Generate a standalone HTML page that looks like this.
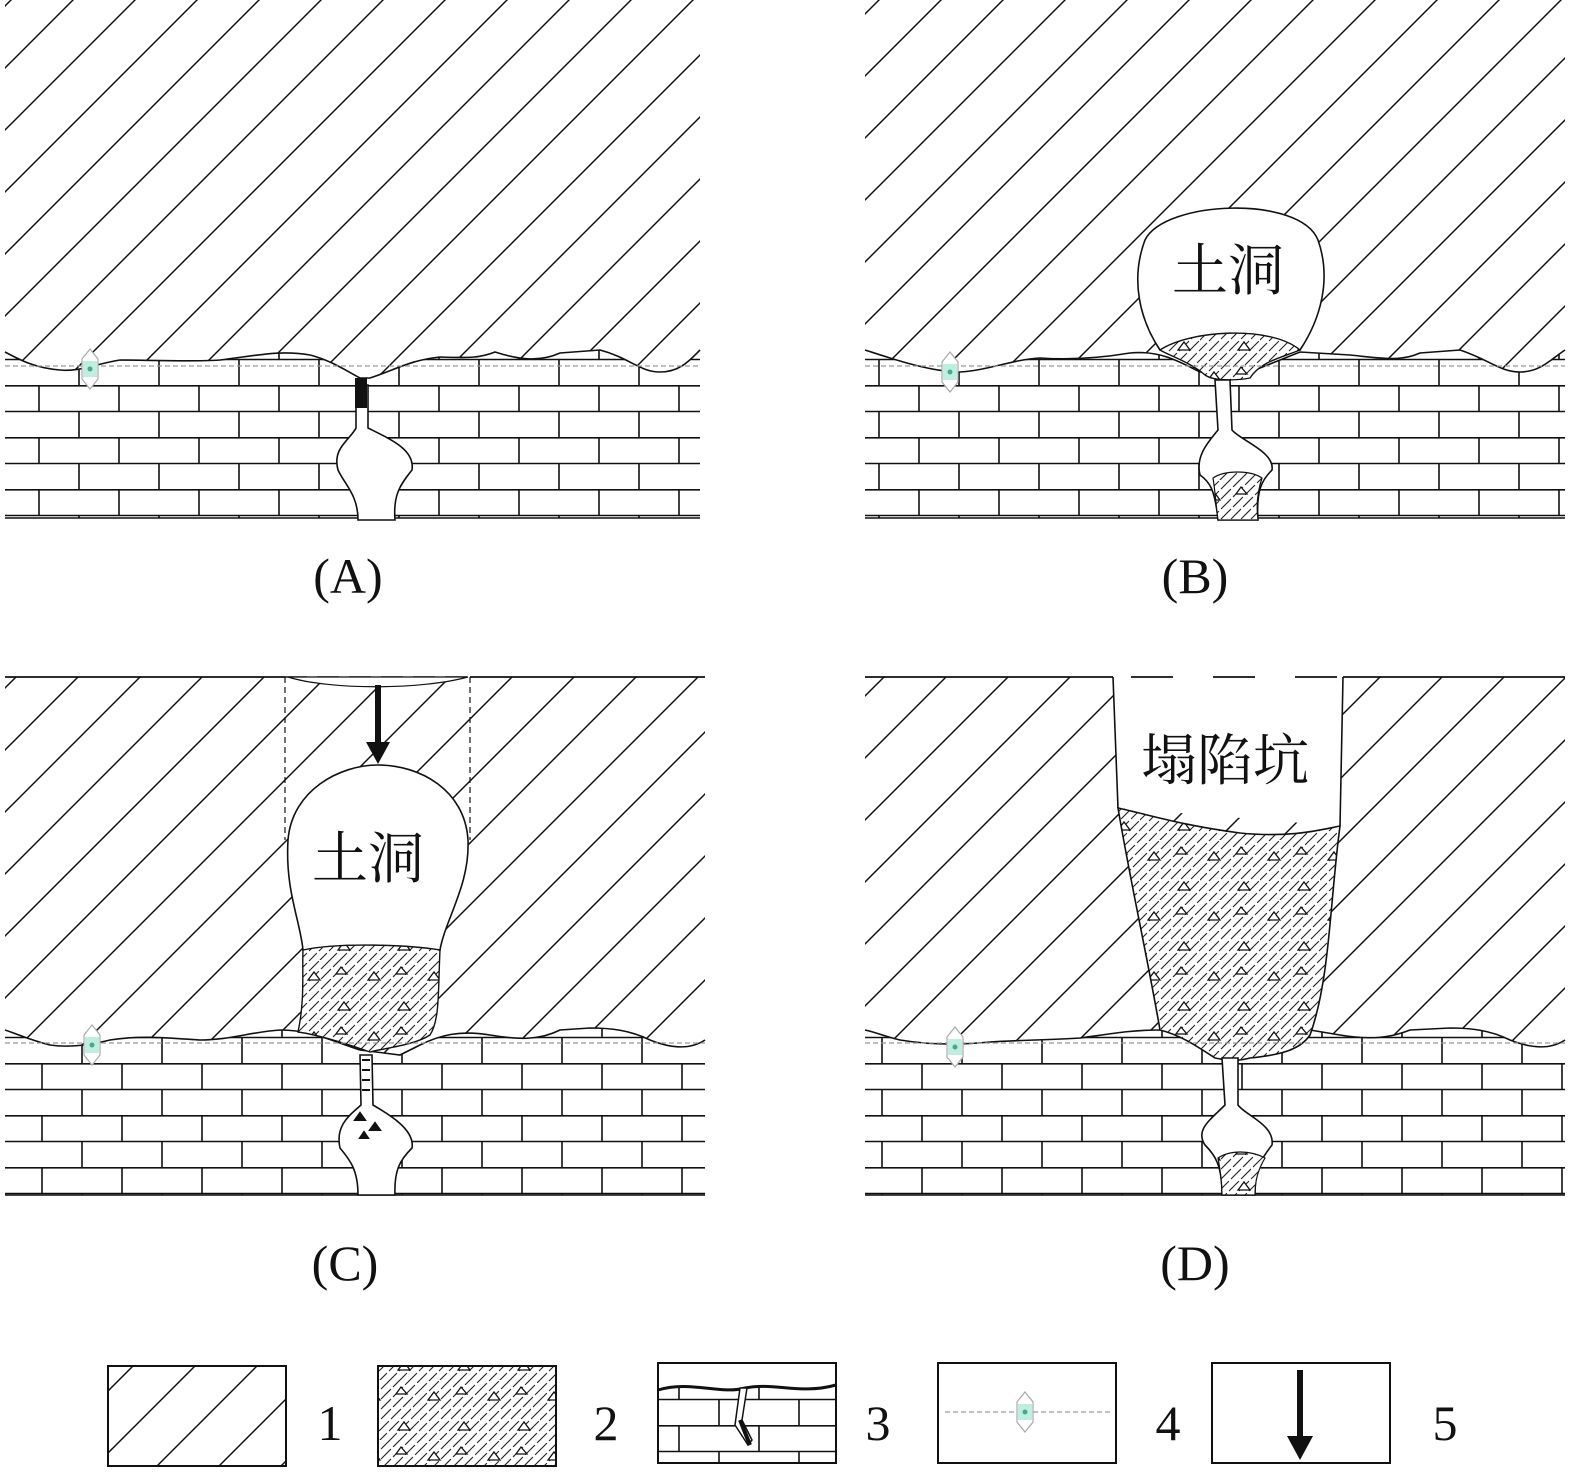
<!DOCTYPE html>
<html><head><meta charset="utf-8"><style>
html,body{margin:0;padding:0;background:#fff}
svg{display:block}
text{font-family:"Liberation Serif","Noto Serif CJK SC",serif;fill:#111}
</style></head><body>
<svg width="1575" height="1475" viewBox="0 0 1575 1475" xmlns="http://www.w3.org/2000/svg">
<defs>
<pattern id="h1" patternUnits="userSpaceOnUse" x="11" y="0" width="62" height="62">
<rect width="62" height="62" fill="#fff"/>
<path d="M-2,64 L64,-2 M-10,10 L10,-10 M52,72 L72,52" stroke="#111" stroke-width="1.5"/>
</pattern>
<pattern id="h2" patternUnits="userSpaceOnUse" width="60" height="60">
<rect width="60" height="60" fill="#fff"/>
<path d="M-3,63 L63,-3 M-3,53 L53,-3 M-3,43 L43,-3 M-3,33 L33,-3 M-3,23 L23,-3 M-3,13 L13,-3 M-3,3 L3,-3 M7,63 L63,7 M17,63 L63,17 M27,63 L63,27 M37,63 L63,37 M47,63 L63,47 M57,63 L63,57" stroke="#222" stroke-width="1.1" stroke-dasharray="14,3"/>
<path d="M8,20 l6,-8 l6,8 z M38,50 l6,-8 l6,8 z M36,14 l5,-7 l6,7z" fill="#fff" stroke="#111" stroke-width="1.3"/>
</pattern>
<pattern id="brA" patternUnits="userSpaceOnUse" x="0" y="333" width="80" height="52">
<rect width="80" height="52" fill="#fff"/>
<path d="M0,0.8 H80 M0,26.5 H80 M39,0 V26 M79,26 V52" stroke="#111" stroke-width="1.6"/>
</pattern>
<pattern id="brB" patternUnits="userSpaceOnUse" x="0" y="1011" width="80" height="52">
<rect width="80" height="52" fill="#fff"/>
<path d="M0,0.8 H80 M0,26.5 H80 M42,0 V26 M2,26 V52" stroke="#111" stroke-width="1.6"/>
</pattern>
<g id="eye">
<path d="M0,-18 L8,-8 L8,12 L0,22 L-8,12 L-8,-8 Z" fill="#fff" stroke="#aaa" stroke-width="1.2"/>
<rect x="-7" y="-6" width="14" height="16" fill="#bfeee0"/>
<circle cx="0" cy="2" r="2.5" fill="#4a8"/>
</g>
</defs>

<!-- PANEL A -->
<rect x="5" y="340" width="695" height="178" fill="url(#brA)"/>
<line x1="5" y1="518" x2="700" y2="518" stroke="#111" stroke-width="1.6"/>
<path d="M5,0 H700 V350 C690,360 680,372 660,372 C640,372 630,358 600,350 L560,353 C540,362 520,360 495,352 C480,358 470,358 440,357 C410,360 395,370 370,378 L360,378 C345,370 330,360 310,355 C280,350 260,355 220,360 C190,362 150,360 120,360 C95,364 80,372 60,370 C35,368 20,360 5,352 Z" fill="url(#h1)"/>
<path d="M700,350 C690,360 680,372 660,372 C640,372 630,358 600,350 L560,353 C540,362 520,360 495,352 C480,358 470,358 440,357 C410,360 395,370 370,378 L360,378 C345,370 330,360 310,355 C280,350 260,355 220,360 C190,362 150,360 120,360 C95,364 80,372 60,370 C35,368 20,360 5,352" fill="none" stroke="#111" stroke-width="1.6"/>
<line x1="5" y1="366" x2="700" y2="366" stroke="#999" stroke-width="1.2" stroke-dasharray="5,3"/>
<path d="M356,385 L356,428 C350,440 332,448 338,470 C345,485 358,495 358,520 L395,520 C393,495 400,485 412,470 C415,450 392,440 368,428 L368,385 Z" fill="#fff" stroke="#111" stroke-width="1.6"/>
<rect x="355" y="378" width="12" height="30" fill="#111"/>
<use href="#eye" x="90" y="367"/>

<!-- PANEL B -->
<rect x="865" y="340" width="700" height="178" fill="url(#brA)"/>
<line x1="865" y1="518" x2="1565" y2="518" stroke="#111" stroke-width="1.6"/>
<path d="M865,0 H1565 V350 C1550,360 1540,372 1520,372 C1500,372 1490,360 1460,350 L1420,353 C1400,362 1380,358 1350,355 L1300,352 L1250,372 L1200,372 C1180,362 1160,350 1130,353 C1100,358 1070,360 1040,358 C1010,360 990,370 960,372 C930,372 890,358 865,350 Z" fill="url(#h1)"/>
<path d="M1565,350 C1550,360 1540,372 1520,372 C1500,372 1490,360 1460,350 L1420,353 C1400,362 1380,358 1350,355 L1300,352 L1250,372 L1200,372 C1180,362 1160,350 1130,353 C1100,358 1070,360 1040,358 C1010,360 990,370 960,372 C930,372 890,358 865,350" fill="none" stroke="#111" stroke-width="1.6"/>
<path d="M1160,350 C1140,320 1130,280 1145,240 C1165,200 1300,195 1318,240 C1332,280 1320,320 1300,350 Z" fill="#fff" stroke="#111" stroke-width="1.6"/>
<path d="M1160,350 C1190,330 1270,325 1300,350 C1280,358 1260,362 1250,378 C1240,380 1215,382 1205,375 C1190,362 1170,356 1160,350 Z" fill="url(#h2)" stroke="#111" stroke-width="1.4"/>
<line x1="865" y1="366" x2="1565" y2="366" stroke="#999" stroke-width="1.2" stroke-dasharray="5,3"/>
<path d="M1215,380 L1218,430 C1210,440 1195,455 1200,475 C1210,482 1215,490 1218,520 L1258,520 C1256,490 1262,480 1272,470 C1275,452 1240,440 1232,430 L1230,380 Z" fill="#fff" stroke="#111" stroke-width="1.6"/>
<path d="M1213,478 C1225,470 1250,470 1262,478 C1258,490 1256,505 1258,520 L1218,520 C1216,505 1215,490 1213,478 Z" fill="url(#h2)" stroke="#111" stroke-width="1.2"/>
<text x="1228" y="290" font-size="56" text-anchor="middle">土洞</text>
<use href="#eye" x="950" y="370"/>

<!-- PANEL C -->
<rect x="5" y="1020" width="700" height="175" fill="url(#brB)"/>
<line x1="5" y1="1195" x2="705" y2="1195" stroke="#111" stroke-width="1.6"/>
<path d="M5,677 H705 V1040 C690,1050 670,1048 650,1040 C630,1030 610,1028 590,1028 L560,1030 C540,1040 520,1040 490,1035 C460,1030 440,1035 420,1045 L400,1055 L360,1050 C330,1040 310,1030 280,1030 C250,1032 230,1040 200,1040 C170,1038 140,1035 110,1040 C90,1045 70,1048 50,1045 C30,1040 20,1035 5,1030 Z" fill="url(#h1)"/>
<path d="M705,1040 C690,1050 670,1048 650,1040 C630,1030 610,1028 590,1028 L560,1030 C540,1040 520,1040 490,1035 C460,1030 440,1035 420,1045 L400,1055 L360,1050 C330,1040 310,1030 280,1030 C250,1032 230,1040 200,1040 C170,1038 140,1035 110,1040 C90,1045 70,1048 50,1045 C30,1040 20,1035 5,1030" fill="none" stroke="#111" stroke-width="1.6"/>
<line x1="5" y1="677" x2="285" y2="677" stroke="#111" stroke-width="1.8"/>
<line x1="470" y1="677" x2="705" y2="677" stroke="#111" stroke-width="1.8"/>
<path d="M285,677 H470" stroke="#111" stroke-width="1.5" stroke-dasharray="22,10"/>
<path d="M288,677 C330,690 420,690 468,677 Z" fill="#fff" stroke="#111" stroke-width="1.2"/>
<path d="M285,677 V840 M470,677 V840" stroke="#111" stroke-width="1.2" stroke-dasharray="6,4"/>
<path d="M303,950 C300,920 285,890 288,840 C292,790 340,765 378,765 C420,765 465,790 468,840 C470,885 445,920 440,950 Z" fill="#fff" stroke="#111" stroke-width="1.6"/>
<path d="M303,950 C340,942 410,945 440,950 C438,990 440,1020 430,1035 C415,1045 385,1048 370,1052 C350,1045 320,1035 298,1032 C305,1000 302,970 303,950 Z" fill="url(#h2)" stroke="#111" stroke-width="1.4"/>
<line x1="5" y1="1043" x2="705" y2="1043" stroke="#999" stroke-width="1.2" stroke-dasharray="5,3"/>
<path d="M360,1055 L361,1105 C350,1115 335,1125 340,1148 C350,1160 358,1170 358,1195 L395,1195 C394,1170 400,1160 412,1148 C415,1130 390,1115 373,1105 L372,1055 Z" fill="#fff" stroke="#111" stroke-width="1.6"/>
<path d="M362,1060 h8 M362,1070 h8 M362,1080 h8 M362,1090 h8 M355,1120 l5,-7 l5,7z M370,1130 l5,-7 l5,7z M360,1138 l4,-6 l4,6z" stroke="#111" fill="#111" stroke-width="2"/>
<path d="M378,685 V748" stroke="#111" stroke-width="6"/>
<path d="M366,742 L390,742 L378,764 Z" fill="#111"/>
<text x="368" y="878" font-size="56" text-anchor="middle">土洞</text>
<use href="#eye" x="92" y="1043"/>

<!-- PANEL D -->
<rect x="865" y="1020" width="700" height="175" fill="url(#brB)"/>
<line x1="865" y1="1195" x2="1565" y2="1195" stroke="#111" stroke-width="1.6"/>
<path d="M865,677 H1565 V1040 C1550,1050 1530,1048 1510,1040 C1490,1030 1470,1028 1450,1028 L1410,1030 C1390,1038 1370,1040 1340,1035 L1310,1030 L1160,1030 C1130,1030 1110,1034 1080,1038 C1050,1040 1020,1040 990,1042 C960,1045 930,1045 900,1040 C880,1035 875,1032 865,1030 Z" fill="url(#h1)"/>
<path d="M1565,1040 C1550,1050 1530,1048 1510,1040 C1490,1030 1470,1028 1450,1028 L1410,1030 C1390,1038 1370,1040 1340,1035 L1310,1030 L1160,1030 C1130,1030 1110,1034 1080,1038 C1050,1040 1020,1040 990,1042 C960,1045 930,1045 900,1040 C880,1035 875,1032 865,1030" fill="none" stroke="#111" stroke-width="1.6"/>
<line x1="865" y1="677" x2="1113" y2="677" stroke="#111" stroke-width="1.8"/>
<line x1="1343" y1="677" x2="1565" y2="677" stroke="#111" stroke-width="1.8"/>
<path d="M1113,677 L1118,808 L1340,826 L1343,677 Z" fill="#fff"/>
<path d="M1113,677 L1118,808 M1343,677 L1340,826" stroke="#111" stroke-width="1.6"/>
<path d="M1113,677 H1343" stroke="#111" stroke-width="1.8" stroke-dasharray="0,18,42,22"/>
<path d="M1118,808 C1150,815 1180,825 1240,833 C1290,838 1320,830 1340,826 C1330,900 1330,980 1310,1035 C1300,1050 1280,1055 1250,1058 C1235,1062 1225,1060 1215,1058 C1195,1045 1180,1035 1160,1030 C1148,960 1130,880 1118,808 Z" fill="url(#h2)" stroke="#111" stroke-width="1.6"/>
<line x1="865" y1="1043" x2="1565" y2="1043" stroke="#999" stroke-width="1.2" stroke-dasharray="5,3"/>
<path d="M1222,1058 L1225,1105 C1210,1120 1195,1130 1205,1145 C1215,1155 1222,1165 1222,1195 L1255,1195 C1255,1170 1260,1160 1272,1145 C1275,1125 1245,1115 1238,1105 L1238,1058 Z" fill="#fff" stroke="#111" stroke-width="1.6"/>
<path d="M1218,1158 C1230,1150 1250,1150 1265,1158 C1258,1170 1255,1180 1255,1195 L1222,1195 C1222,1180 1220,1170 1218,1158 Z" fill="url(#h2)" stroke="#111" stroke-width="1.2"/>
<text x="1225" y="780" font-size="56" text-anchor="middle">塌陷坑</text>
<use href="#eye" x="955" y="1045"/>

<!-- labels -->
<text x="348" y="593" font-size="50" text-anchor="middle">(A)</text>
<text x="1195" y="593" font-size="50" text-anchor="middle">(B)</text>
<text x="345" y="1280" font-size="50" text-anchor="middle">(C)</text>
<text x="1195" y="1280" font-size="50" text-anchor="middle">(D)</text>

<!-- legend -->
<rect x="108" y="1366" width="178" height="100" fill="url(#h1)" stroke="#111" stroke-width="2"/>
<rect x="378" y="1366" width="178" height="100" fill="url(#h2)" stroke="#111" stroke-width="2"/>
<rect x="658" y="1363" width="178" height="100" fill="url(#brA)" stroke="#111" stroke-width="2"/>
<path d="M658,1390 C690,1380 720,1395 745,1388 C775,1382 800,1395 836,1385 L836,1363 L658,1363 Z" fill="#fff"/>
<path d="M658,1390 C690,1380 720,1395 745,1388 C775,1382 800,1395 836,1385" fill="none" stroke="#111" stroke-width="3"/>
<rect x="658" y="1363" width="178" height="100" fill="none" stroke="#111" stroke-width="2"/>
<path d="M740,1388 L735,1425 L748,1445 L752,1440 L742,1420 L747,1388 Z" fill="#fff" stroke="#111" stroke-width="1.5"/>
<path d="M740,1420 L750,1445" stroke="#111" stroke-width="4"/>
<rect x="938" y="1363" width="178" height="100" fill="#fff" stroke="#111" stroke-width="2"/>
<line x1="945" y1="1412" x2="1110" y2="1412" stroke="#99a" stroke-width="1.2" stroke-dasharray="5,3"/>
<use href="#eye" x="1025" y="1410"/>
<rect x="1212" y="1363" width="178" height="100" fill="#fff" stroke="#111" stroke-width="2"/>
<path d="M1300,1370 V1440" stroke="#111" stroke-width="6"/>
<path d="M1287,1436 L1313,1436 L1300,1460 Z" fill="#111"/>
<text x="330" y="1440" font-size="50" text-anchor="middle">1</text>
<text x="606" y="1440" font-size="50" text-anchor="middle">2</text>
<text x="878" y="1440" font-size="50" text-anchor="middle">3</text>
<text x="1168" y="1440" font-size="50" text-anchor="middle">4</text>
<text x="1445" y="1440" font-size="50" text-anchor="middle">5</text>
</svg>
</body></html>
